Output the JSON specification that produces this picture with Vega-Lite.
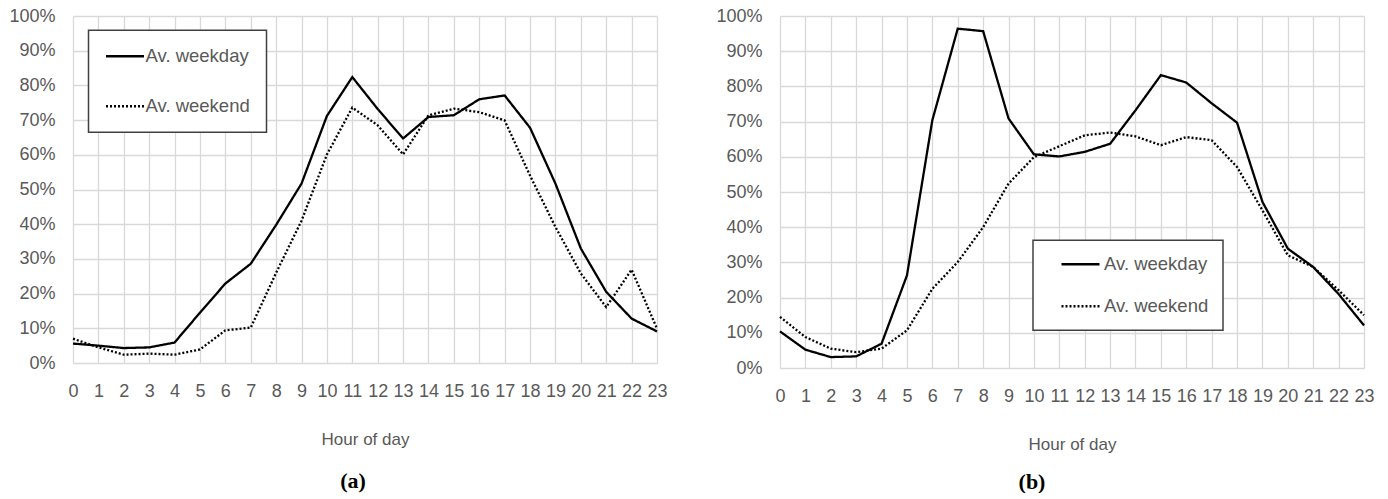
{
  "$schema": "https://vega.github.io/schema/vega-lite/v6.json",
  "background": "white",
  "padding": {"left": 8, "top": 7, "right": 0, "bottom": 0},
  "spacing": 123,
  "bounds": "flush",
  "config": {
    "view": {"stroke": null},
    "font": "Liberation Sans",
    "axis": {
      "labelFontSize": 18,
      "labelColor": "#595959",
      "gridColor": "#d9d9d9",
      "gridWidth": 1.3,
      "domainColor": "#d9d9d9",
      "ticks": false,
      "labelPadding": 19,
      "titleFontSize": 17,
      "titleFontWeight": "normal",
      "titleColor": "#595959"
    },
    "legend": {
      "orient": "none",
      "title": null,
      "symbolType": "stroke",
      "symbolSize": 1444,
      "clipHeight": 20,
      "symbolStrokeColor": "black",
      "symbolStrokeWidth": 2.5,
      "labelFontSize": 18.5,
      "labelColor": "#595959",
      "strokeColor": "#404040",
      "strokeWidth": 1.5,
      "fillColor": "white"
    }
  },
  "datasets": {
    "a": [
      {"hour": 0, "series": "Av. weekday", "value": 0.056},
      {"hour": 1, "series": "Av. weekday", "value": 0.050},
      {"hour": 2, "series": "Av. weekday", "value": 0.043},
      {"hour": 3, "series": "Av. weekday", "value": 0.045},
      {"hour": 4, "series": "Av. weekday", "value": 0.059},
      {"hour": 5, "series": "Av. weekday", "value": 0.145},
      {"hour": 6, "series": "Av. weekday", "value": 0.229},
      {"hour": 7, "series": "Av. weekday", "value": 0.286},
      {"hour": 8, "series": "Av. weekday", "value": 0.398},
      {"hour": 9, "series": "Av. weekday", "value": 0.517},
      {"hour": 10, "series": "Av. weekday", "value": 0.712},
      {"hour": 11, "series": "Av. weekday", "value": 0.824},
      {"hour": 12, "series": "Av. weekday", "value": 0.732},
      {"hour": 13, "series": "Av. weekday", "value": 0.647},
      {"hour": 14, "series": "Av. weekday", "value": 0.709},
      {"hour": 15, "series": "Av. weekday", "value": 0.714},
      {"hour": 16, "series": "Av. weekday", "value": 0.760},
      {"hour": 17, "series": "Av. weekday", "value": 0.771},
      {"hour": 18, "series": "Av. weekday", "value": 0.678},
      {"hour": 19, "series": "Av. weekday", "value": 0.517},
      {"hour": 20, "series": "Av. weekday", "value": 0.330},
      {"hour": 21, "series": "Av. weekday", "value": 0.205},
      {"hour": 22, "series": "Av. weekday", "value": 0.128},
      {"hour": 23, "series": "Av. weekday", "value": 0.091},
      {"hour": 0, "series": "Av. weekend", "value": 0.070},
      {"hour": 1, "series": "Av. weekend", "value": 0.045},
      {"hour": 2, "series": "Av. weekend", "value": 0.024},
      {"hour": 3, "series": "Av. weekend", "value": 0.027},
      {"hour": 4, "series": "Av. weekend", "value": 0.024},
      {"hour": 5, "series": "Av. weekend", "value": 0.039},
      {"hour": 6, "series": "Av. weekend", "value": 0.094},
      {"hour": 7, "series": "Av. weekend", "value": 0.102},
      {"hour": 8, "series": "Av. weekend", "value": 0.260},
      {"hour": 9, "series": "Av. weekend", "value": 0.410},
      {"hour": 10, "series": "Av. weekend", "value": 0.601},
      {"hour": 11, "series": "Av. weekend", "value": 0.736},
      {"hour": 12, "series": "Av. weekend", "value": 0.685},
      {"hour": 13, "series": "Av. weekend", "value": 0.601},
      {"hour": 14, "series": "Av. weekend", "value": 0.714},
      {"hour": 15, "series": "Av. weekend", "value": 0.733},
      {"hour": 16, "series": "Av. weekend", "value": 0.723},
      {"hour": 17, "series": "Av. weekend", "value": 0.699},
      {"hour": 18, "series": "Av. weekend", "value": 0.540},
      {"hour": 19, "series": "Av. weekend", "value": 0.392},
      {"hour": 20, "series": "Av. weekend", "value": 0.258},
      {"hour": 21, "series": "Av. weekend", "value": 0.161},
      {"hour": 22, "series": "Av. weekend", "value": 0.269},
      {"hour": 23, "series": "Av. weekend", "value": 0.099}
    ],
    "b": [
      {"hour": 0, "series": "Av. weekday", "value": 0.104},
      {"hour": 1, "series": "Av. weekday", "value": 0.052},
      {"hour": 2, "series": "Av. weekday", "value": 0.031},
      {"hour": 3, "series": "Av. weekday", "value": 0.033},
      {"hour": 4, "series": "Av. weekday", "value": 0.069},
      {"hour": 5, "series": "Av. weekday", "value": 0.263},
      {"hour": 6, "series": "Av. weekday", "value": 0.704},
      {"hour": 7, "series": "Av. weekday", "value": 0.964},
      {"hour": 8, "series": "Av. weekday", "value": 0.957},
      {"hour": 9, "series": "Av. weekday", "value": 0.709},
      {"hour": 10, "series": "Av. weekday", "value": 0.607},
      {"hour": 11, "series": "Av. weekday", "value": 0.601},
      {"hour": 12, "series": "Av. weekday", "value": 0.614},
      {"hour": 13, "series": "Av. weekday", "value": 0.637},
      {"hour": 14, "series": "Av. weekday", "value": 0.732},
      {"hour": 15, "series": "Av. weekday", "value": 0.832},
      {"hour": 16, "series": "Av. weekday", "value": 0.811},
      {"hour": 17, "series": "Av. weekday", "value": 0.752},
      {"hour": 18, "series": "Av. weekday", "value": 0.697},
      {"hour": 19, "series": "Av. weekday", "value": 0.472},
      {"hour": 20, "series": "Av. weekday", "value": 0.339},
      {"hour": 21, "series": "Av. weekday", "value": 0.287},
      {"hour": 22, "series": "Av. weekday", "value": 0.210},
      {"hour": 23, "series": "Av. weekday", "value": 0.121},
      {"hour": 0, "series": "Av. weekend", "value": 0.145},
      {"hour": 1, "series": "Av. weekend", "value": 0.088},
      {"hour": 2, "series": "Av. weekend", "value": 0.055},
      {"hour": 3, "series": "Av. weekend", "value": 0.045},
      {"hour": 4, "series": "Av. weekend", "value": 0.055},
      {"hour": 5, "series": "Av. weekend", "value": 0.107},
      {"hour": 6, "series": "Av. weekend", "value": 0.225},
      {"hour": 7, "series": "Av. weekend", "value": 0.301},
      {"hour": 8, "series": "Av. weekend", "value": 0.400},
      {"hour": 9, "series": "Av. weekend", "value": 0.524},
      {"hour": 10, "series": "Av. weekend", "value": 0.599},
      {"hour": 11, "series": "Av. weekend", "value": 0.630},
      {"hour": 12, "series": "Av. weekend", "value": 0.661},
      {"hour": 13, "series": "Av. weekend", "value": 0.669},
      {"hour": 14, "series": "Av. weekend", "value": 0.658},
      {"hour": 15, "series": "Av. weekend", "value": 0.633},
      {"hour": 16, "series": "Av. weekend", "value": 0.656},
      {"hour": 17, "series": "Av. weekend", "value": 0.647},
      {"hour": 18, "series": "Av. weekend", "value": 0.571},
      {"hour": 19, "series": "Av. weekend", "value": 0.448},
      {"hour": 20, "series": "Av. weekend", "value": 0.320},
      {"hour": 21, "series": "Av. weekend", "value": 0.287},
      {"hour": 22, "series": "Av. weekend", "value": 0.221},
      {"hour": 23, "series": "Av. weekend", "value": 0.150}
    ]
  },
  "resolve": {"legend": {"strokeDash": "independent"}, "scale": {"strokeDash": "independent"}},
  "hconcat": [
    {
      "width": 584,
      "height": 347,
      "data": {"name": "a"},
      "title": {"text": "(a)", "orient": "bottom", "anchor": "middle", "dx": -12, "offset": 24, "font": "Liberation Serif", "fontSize": 22, "fontWeight": "bold", "color": "black"},
      "mark": {"type": "line", "color": "black", "strokeWidth": 2.3},
      "encoding": {
        "x": {"field": "hour", "type": "quantitative", "scale": {"domain": [0, 23], "nice": false, "zero": false},
          "axis": {"values": [0,1,2,3,4,5,6,7,8,9,10,11,12,13,14,15,16,17,18,19,20,21,22,23], "format": "d", "title": "Hour of day", "titlePadding": 31, "labelFlush": false, "labelOverlap": false}},
        "y": {"field": "value", "type": "quantitative", "scale": {"domain": [0, 1], "nice": false},
          "axis": {"values": [0,0.1,0.2,0.3,0.4,0.5,0.6,0.7,0.8,0.9,1], "format": ".0%", "title": null, "labelPadding": 18, "labelFlush": false}},
        "strokeDash": {"field": "series", "type": "nominal",
          "scale": {"domain": ["Av. weekday", "Av. weekend"], "range": [[1, 0], [2, 2]]},
          "legend": {"legendX": 15.5, "legendY": 14.3, "padding": 16, "rowPadding": 30, "labelOffset": 0}}
      }
    },
    {
      "width": 584,
      "height": 352,
      "data": {"name": "b"},
      "title": {"text": "(b)", "orient": "bottom", "anchor": "middle", "dx": -40, "offset": 20, "font": "Liberation Serif", "fontSize": 22, "fontWeight": "bold", "color": "black"},
      "mark": {"type": "line", "color": "black", "strokeWidth": 2.3},
      "encoding": {
        "x": {"field": "hour", "type": "quantitative", "scale": {"domain": [0, 23], "nice": false, "zero": false},
          "axis": {"values": [0,1,2,3,4,5,6,7,8,9,10,11,12,13,14,15,16,17,18,19,20,21,22,23], "format": "d", "title": "Hour of day", "titlePadding": 31, "labelFlush": false, "labelOverlap": false}},
        "y": {"field": "value", "type": "quantitative", "scale": {"domain": [0, 1], "nice": false},
          "axis": {"values": [0,0.1,0.2,0.3,0.4,0.5,0.6,0.7,0.8,0.9,1], "format": ".0%", "title": null, "labelPadding": 18, "labelFlush": false}},
        "strokeDash": {"field": "series", "type": "nominal",
          "scale": {"domain": ["Av. weekday", "Av. weekend"], "range": [[1, 0], [2, 2]]},
          "legend": {"legendX": 253, "legendY": 224.3, "padding": 14, "rowPadding": 22, "symbolOffset": 13, "labelOffset": 3}}
      }
    }
  ]
}
